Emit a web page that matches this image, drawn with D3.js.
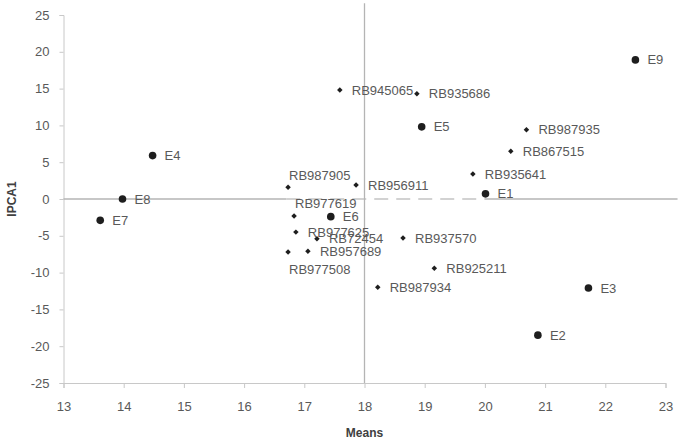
<!DOCTYPE html>
<html>
<head>
<meta charset="utf-8">
<script src="https://cdn.jsdelivr.net/npm/d3@7"></script>
<style>
  body { margin: 0; background: #fff; }
  text { font-family: "Liberation Sans", Arial, sans-serif; }
</style>
</head>
<body>
<script>
'use strict';

// environments (circles)
var envNames = ["E1", "E2", "E3", "E4", "E5", "E6", "E7", "E8", "E9"];
var envMeans = [20.01, 20.88, 21.72, 14.48, 18.95, 17.44, 13.61, 13.98, 22.5];
var envIpca = [0.7, -18.5, -12.1, 5.9, 9.8, -2.4, -2.9, 0.0, 18.9];

// genotypes (diamonds)
var genNames = ["RB945065", "RB935686", "RB987935", "RB867515", "RB935641", "RB987905", "RB956911",
                "RB977619", "RB977625", "RB72454", "RB957689", "RB977508", "RB937570", "RB925211", "RB987934"];
var genMeans = [17.59, 18.87, 20.69, 20.43, 19.8, 16.73, 17.86, 16.83, 16.86, 17.21, 17.06, 16.73, 18.64, 19.16, 18.22];
var genIpca = [14.8, 14.3, 9.4, 6.5, 3.4, 1.6, 1.9, -2.3, -4.5, -5.4, -7.1, -7.2, -5.3, -9.4, -12.0];

var xTicks = [13, 14, 15, 16, 17, 18, 19, 20, 21, 22, 23];
var yTicks = [-25, -20, -15, -10, -5, 0, 5, 10, 15, 20, 25];
var grandMean = 18;

var chart = {};
chart.width = 678;
chart.height = 441;

// a few labels do not sit to the right of their point
chart.labelPlace = { "RB987905": "above", "RB977619": "above", "RB977508": "below" };

chart.x = d3.scaleLinear().domain([13, 23]).range([63.5, 665.5]);
chart.y = d3.scaleLinear().domain([-25, 25]).range([383, 15]);

chart.appendSvg = function(){
    return d3.select("body").append("svg")
        .attr("width", chart.width)
        .attr("height", chart.height);
};

chart.drawAxes = function(svg){
    var x = chart.x, y = chart.y;

    var xAxis = svg.append("g")
        .attr("transform", "translate(0," + y(-25) + ")")
        .call(d3.axisBottom(x).tickValues(xTicks).tickSize(5).tickPadding(14).tickFormat(d3.format("d")));
    var yAxis = svg.append("g")
        .attr("transform", "translate(" + x(13) + ",0)")
        .call(d3.axisLeft(y).tickValues(yTicks).tickSize(4).tickPadding(10).tickFormat(function(d){ return d; }));

    [xAxis, yAxis].forEach(function(g){
        g.select(".domain").attr("stroke", "#c8c8c8");
        g.selectAll(".tick line").attr("stroke", "#c8c8c8");
        g.selectAll(".tick text")
            .attr("fill", "#595959")
            .style("font-size", "13px")
            .style("font-family", "'Liberation Sans', Arial, sans-serif");
    });

    // reference lines at zero and at the grand mean
    svg.append("line")
        .attr("x1", x(13)).attr("x2", x(16.7))
        .attr("y1", y(0)).attr("y2", y(0))
        .attr("stroke", "#b4b4b4").attr("stroke-width", 1.3);
    svg.append("line")
        .attr("x1", x(16.7)).attr("x2", x(20))
        .attr("y1", y(0)).attr("y2", y(0))
        .attr("stroke", "#c4c4c4").attr("stroke-width", 1.3)
        .attr("stroke-dasharray", "14,8");
    svg.append("line")
        .attr("x1", x(20)).attr("x2", x(23.2))
        .attr("y1", y(0)).attr("y2", y(0))
        .attr("stroke", "#b4b4b4").attr("stroke-width", 1.3);

    svg.append("line")
        .attr("x1", x(grandMean)).attr("x2", x(grandMean))
        .attr("y1", y(26.6)).attr("y2", y(-25))
        .attr("stroke", "#b4b4b4").attr("stroke-width", 1.3);

    svg.append("text")
        .attr("x", x(18)).attr("y", 437)
        .attr("text-anchor", "middle")
        .attr("fill", "#404040")
        .style("font-size", "12px").style("font-weight", "bold")
        .text("Means");

    svg.append("text")
        .attr("transform", "translate(16," + y(0) + ") rotate(-90)")
        .attr("text-anchor", "middle")
        .attr("fill", "#404040")
        .style("font-size", "12px").style("font-weight", "bold")
        .text("IPCA1");
};

chart.drawPoints = function(svg){
    var x = chart.x, y = chart.y;

    var envData = envNames.map(function(n, i){ return { name: n, m: envMeans[i], v: envIpca[i] }; });
    var genData = genNames.map(function(n, i){ return { name: n, m: genMeans[i], v: genIpca[i] }; });

    svg.selectAll(".env")
        .data(envData)
        .enter()
            .append("circle")
            .classed("env", true)
            .attr("cx", function(d){ return x(d.m); })
            .attr("cy", function(d){ return y(d.v); })
            .attr("r", 3.8)
            .attr("fill", "#1e1e1e");

    var diamond = d3.symbol().type(d3.symbolSquare).size(15);
    svg.selectAll(".gen")
        .data(genData)
        .enter()
            .append("path")
            .classed("gen", true)
            .attr("d", diamond)
            .attr("transform", function(d){
                return "translate(" + x(d.m) + "," + y(d.v) + ") rotate(45)";
            })
            .attr("fill", "#1e1e1e");

    svg.selectAll(".pt-label")
        .data(envData.concat(genData))
        .enter()
            .append("text")
            .classed("pt-label", true)
            .attr("x", function(d){
                var p = chart.labelPlace[d.name];
                return x(d.m) + (p ? 1 : 12);
            })
            .attr("y", function(d){
                var p = chart.labelPlace[d.name];
                var off = p === "above" ? -12 : (p === "below" ? 17 : 0);
                return y(d.v) + off;
            })
            .attr("dy", "0.35em")
            .attr("fill", "#595959")
            .style("font-size", "13px")
            .text(function(d){ return d.name; });
};

chart.run = function(){
    var svg = chart.appendSvg();
    chart.drawAxes(svg);
    chart.drawPoints(svg);
};

chart.run();
</script>
</body>
</html>
